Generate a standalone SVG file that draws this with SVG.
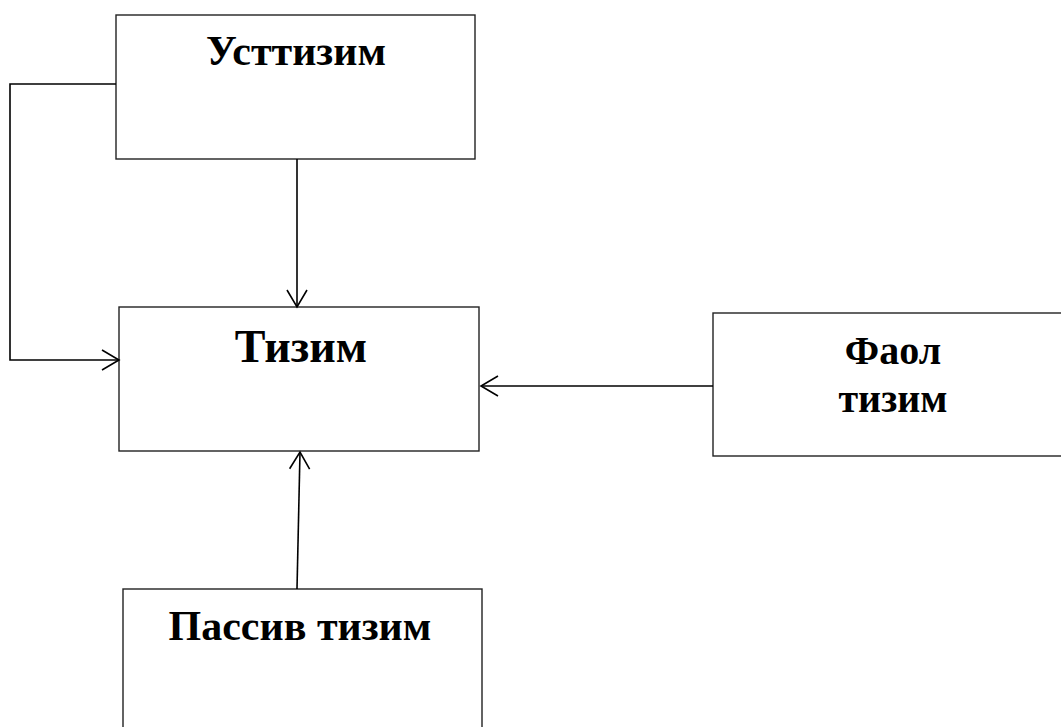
<svg xmlns="http://www.w3.org/2000/svg" width="1061" height="727" viewBox="0 0 1061 727">
<style>
.box{fill:#fff;stroke:#222;stroke-width:1.4}
.lbl{font-family:"Liberation Serif","Times New Roman",serif;font-weight:bold;fill:#000;text-anchor:middle}
.con{fill:none;stroke:#000;stroke-width:1.6}
</style>
<defs>
<marker id="arr" markerUnits="userSpaceOnUse" markerWidth="40" markerHeight="40" refX="0" refY="0" viewBox="-20 -20 40 40" orient="auto" overflow="visible">
<path d="M -17 -10 L 0 0 L -17 10" fill="none" stroke="#000" stroke-width="1.6"/>
</marker>
</defs>
<rect width="1061" height="727" fill="#fff"/>
<g id="node-usttizim">
<rect class="box" x="116" y="15" width="359" height="144"/>
<text class="lbl" x="296" y="65" font-size="42">Усттизим</text>
</g>
<g id="node-tizim">
<rect class="box" x="119" y="307" width="360" height="144"/>
<text class="lbl" x="301" y="362" font-size="46">Тизим</text>
</g>
<g id="node-faol">
<rect class="box" x="713" y="313" width="360" height="143"/>
<text class="lbl" x="893" y="364" font-size="40">Фаол</text>
<text class="lbl" x="893" y="412" font-size="40">тизим</text>
</g>
<g id="node-passiv">
<rect class="box" x="123" y="589" width="359" height="160"/>
<text class="lbl" x="300" y="640" font-size="42">Пассив тизим</text>
</g>
<g id="connectors">
<path class="con" d="M 116 84 L 10 84 L 10 360 L 119 360" marker-end="url(#arr)"/>
<path class="con" d="M 297 159 L 297 307" marker-end="url(#arr)"/>
<path class="con" d="M 713 386 L 481 386" marker-end="url(#arr)"/>
<path class="con" d="M 297 589 L 300 452" marker-end="url(#arr)"/>
</g>
</svg>
